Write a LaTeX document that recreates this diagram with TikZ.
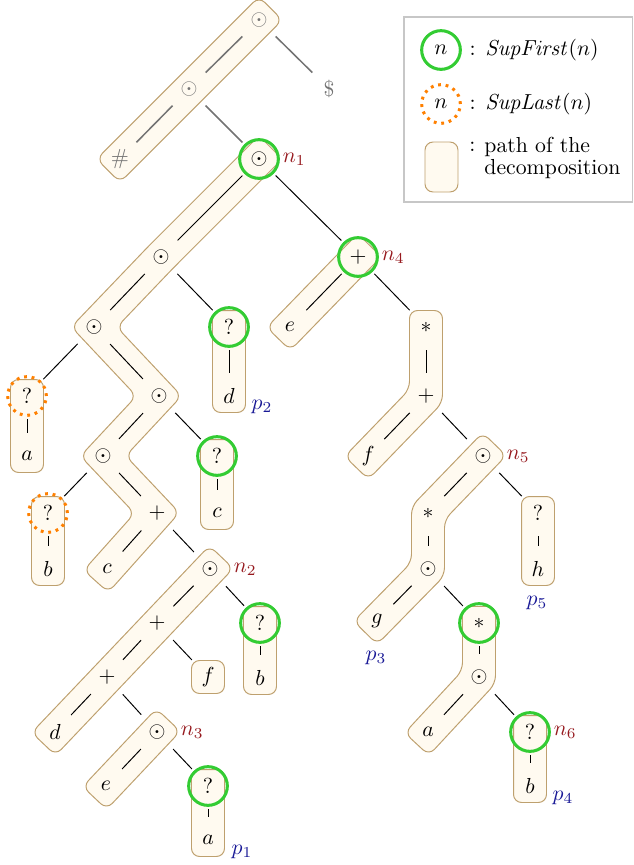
\documentclass[tikz,border=0pt]{standalone}
\usepackage{amsmath,amssymb}
\usepackage{xcolor}
\usetikzlibrary{calc,positioning,backgrounds}

\definecolor{bandfill}{RGB}{255,250,240}
\definecolor{bandline}{RGB}{190,160,110}
\definecolor{firstgreen}{RGB}{51,204,51}
\definecolor{lastorange}{RGB}{255,128,0}
\definecolor{nred}{RGB}{150,25,30}
\definecolor{pblue}{RGB}{25,25,150}

\tikzset{
  tn/.style={circle, minimum size=21.2pt, inner sep=0pt},
  gn/.style={tn, text=black!55},
  edge/.style={line width=0.45pt},
  gedge/.style={line width=0.7pt, black!55},
  band/.style={draw=bandline, fill=bandfill, line width=0.45pt, rounded corners=3.7pt},
  supfirst/.style={draw=firstgreen, line width=1.4pt},
  suplast/.style={draw=lastorange, line width=1.4pt, dash pattern=on 1.3pt off 2.2pt},
  nlab/.style={text=nred, inner sep=0pt},
  plab/.style={text=pblue, inner sep=0pt},
}

% half diagonal of the band end
\newcommand\bd{10.73pt}
% straight band between two nodes
\newcommand\bandline[2]{%
  \draw[band] ($(#1)!\bd!135:(#2)$) -- ($(#2)!\bd!-135:(#1)$)
    -- ($(#2)!\bd!135:(#1)$) -- ($(#1)!\bd!-135:(#2)$) -- cycle;}

\begin{document}
\begin{tikzpicture}[x=0.46pt, y=-0.46pt]
\useasboundingbox (0,0) rectangle (633,865);

% added root part
\node[gn] (T1) at (259,20) {$\odot$};
\node[gn] (T2) at (189,89) {$\odot$};
\node[gn] (hash) at (120,159) {$\#$};
\node[gn] (dollar) at (329,89) {$\$$};

% left subtree
\node[tn] (n1) at (259,159) {$\odot$};
\node[tn] (A) at (161,257) {$\odot$};
\node[tn] (qd) at (229,327) {$?$};
\node[tn] (d1) at (229,396) {$d$};
\node[tn] (B) at (94,327) {$\odot$};
\node[tn] (qa) at (27,396) {$?$};
\node[tn] (a1) at (27,456) {$a$};
\node[tn] (C) at (159,396) {$\odot$};
\node[tn] (qc) at (217,456) {$?$};
\node[tn] (c1) at (217,513) {$c$};
\node[tn] (D) at (103,456) {$\odot$};
\node[tn] (qb) at (48,513) {$?$};
\node[tn] (b1) at (48,569) {$b$};
\node[tn] (E) at (157,513) {$+$};
\node[tn] (c2) at (107,569) {$c$};
\node[tn] (n2) at (210,569) {$\odot$};
\node[tn] (qb2) at (260,623) {$?$};
\node[tn] (b2) at (260,678) {$b$};
\node[tn] (F) at (157,623) {$+$};
\node[tn] (f1) at (208,677) {$f$};
\node[tn] (G) at (107,677) {$+$};
\node[tn] (d2) at (55,732) {$d$};
\node[tn] (n3) at (157,732) {$\odot$};
\node[tn] (e1) at (106,786) {$e$};
\node[tn] (qa2) at (208,786) {$?$};
\node[tn] (a2) at (208,840) {$a$};

% right subtree
\node[tn] (n4) at (358,257) {$+$};
\node[tn] (e2) at (290,327) {$e$};
\node[tn] (s1) at (426,327) {$*$};
\node[tn] (pp) at (426,396) {$+$};
\node[tn] (f2) at (368,456) {$f$};
\node[tn] (n5) at (483,456) {$\odot$};
\node[tn] (s2) at (428,513) {$*$};
\node[tn] (o5) at (428,569) {$\odot$};
\node[tn] (g1) at (377,621) {$g$};
\node[tn] (qh) at (538,513) {$?$};
\node[tn] (h1) at (538,569) {$h$};
\node[tn] (s3) at (479,623) {$*$};
\node[tn] (o6) at (479,677) {$\odot$};
\node[tn] (a3) at (428,732) {$a$};
\node[tn] (n6) at (530,732) {$?$};
\node[tn] (b3) at (530,786) {$b$};

% edges
\foreach \u/\v in {T1/T2, T2/hash, T1/dollar, T2/n1}
  \draw[gedge] (\u) -- (\v);
\foreach \u/\v in {n1/A, n1/n4, A/B, A/qd, qd/d1, B/qa, B/C, qa/a1,
    C/D, C/qc, qc/c1, D/qb, D/E, qb/b1, E/c2, E/n2, n2/F, n2/qb2,
    qb2/b2, F/G, F/f1, G/d2, G/n3, n3/e1, n3/qa2, qa2/a2,
    n4/e2, n4/s1, s1/pp, pp/f2, pp/n5, n5/s2, n5/qh, qh/h1,
    s2/o5, o5/g1, o5/s3, s3/o6, o6/a3, o6/n6, n6/b3}
  \draw[edge] (\u) -- (\v);

% paths of the decomposition
\begin{scope}[on background layer]
  \bandline{T1}{hash}
  \draw[band] (259,135.7) -- (149.2,245.5) -- (71.3,326.9) -- (136.4,396.1)
    -- (80.4,456.1) -- (134.6,513.3) -- (83.7,570.3) -- (108.3,592.3)
    -- (179.4,512.7) -- (125.7,455.9) -- (181.6,396) -- (116.8,327.1)
    -- (172.8,268.5) -- (282.3,159) -- cycle;
  \bandline{qd}{d1}
  \bandline{qa}{a1}
  \bandline{qc}{c1}
  \bandline{qb}{b1}
  \bandline{n2}{d2}
  \bandline{qb2}{b2}
  \draw[band] ($(f1)+(-16.5,-16.5)$) rectangle ($(f1)+(16.5,16.5)$);
  \bandline{n3}{e1}
  \bandline{qa2}{a2}
  \bandline{n4}{e2}
  \draw[band] (409.5,310.5) -- (409.5,389.3) -- (344.7,456.4) -- (368.4,479.3)
    -- (442.5,402.7) -- (442.5,310.5) -- cycle;
  \draw[band] (482.6,432.7) -- (411.5,506.3) -- (411.5,562.3) -- (353.7,621.2)
    -- (377.2,644.3) -- (444.5,575.7) -- (444.5,519.7) -- (506.3,455.6) -- cycle;
  \bandline{qh}{h1}
  \draw[band] (462.5,606.5) -- (462.5,670.5) -- (404.7,732.9) -- (428.9,755.3)
    -- (495.5,683.5) -- (495.5,606.5) -- cycle;
  \bandline{n6}{b3}
\end{scope}

% SupFirst and SupLast
\foreach \n in {n1, n4, qd, qc, qb2, qa2, s3, n6}
  \draw[supfirst] (\n) circle[radius=8.9pt];
\foreach \n in {qa, qb}
  \draw[suplast] (\n) circle[radius=8.9pt];

% labels
\node[nlab, right=0pt of n1] {$n_1$};
\node[nlab, right=0pt of n2] {$n_2$};
\node[nlab, right=0pt of n3] {$n_3$};
\node[nlab, right=0pt of n4] {$n_4$};
\node[nlab, right=0pt of n5] {$n_5$};
\node[nlab, right=0pt of n6] {$n_6$};
\node[plab] at ($(a2)+(34,12)$) {$p_1$};
\node[plab] at ($(d1)+(33,11)$) {$p_2$};
\node[plab] at ($(g1)+(-1,37)$) {$p_3$};
\node[plab] at ($(b3)+(33,12)$) {$p_4$};
\node[plab] at ($(h1)+(-1,34)$) {$p_5$};

% legend
\draw[black!22, line width=0.6pt] (404,17) rectangle (632.5,202);
\node[tn] (keyfirst) at (441,50) {$n$};
\draw[supfirst] (keyfirst) circle[radius=8.9pt];
\node[anchor=west] at (462,50) {: $\mathit{SupFirst}(n)$};
\node[tn] (keylast) at (441,104) {$n$};
\draw[suplast] (keylast) circle[radius=8.9pt];
\node[anchor=west] at (462,104) {: $\mathit{SupLast}(n)$};
\draw[band] (425,142) rectangle (458,192);
\node[anchor=base west, inner sep=0pt] at (469,151.4) {:};
\node[anchor=north west, align=left, inner sep=0pt] at (484,136.4)
  {path of the\\[-1.6pt]decomposition};
\end{tikzpicture}
\end{document}
